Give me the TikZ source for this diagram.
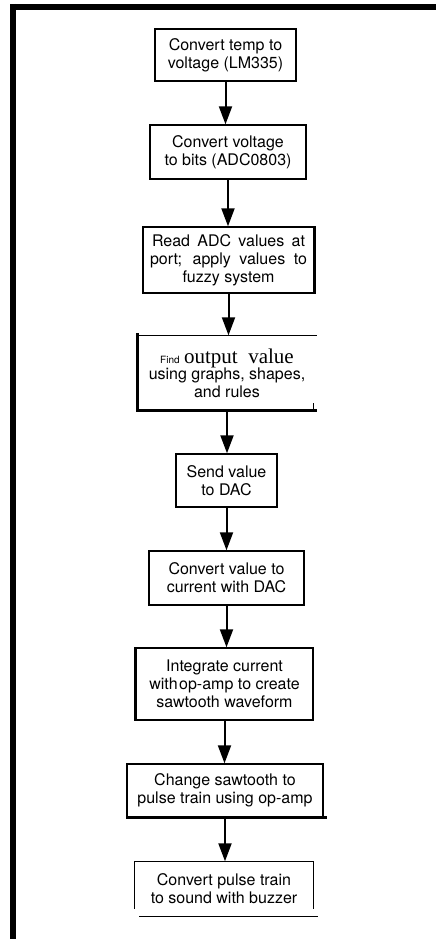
\documentclass[tikz,border=0pt]{standalone}
\usepackage{fontspec}
\setmainfont{TeX Gyre Heros}
\newfontfamily\outserif{Liberation Serif}
\usetikzlibrary{arrows.meta}

\tikzset{
  stage/.style={draw=black, line width=1.4pt, inner sep=0pt, align=center,
                font=\fontsize{16}{18}\selectfont},
  bare/.style={stage, draw=none},
  flow/.style={line width=2pt, -{Triangle[width=13pt,length=18pt,fill=black]}},
  edge/.style={line width=1.4pt},
  heavy/.style={line width=2.8pt},
  frame/.style={line width=6pt}
}

\begin{document}
\begin{tikzpicture}[x=1pt, y=-1pt]
  \useasboundingbox (0,0) rectangle (436,939);

  % outer frame: top and left bars
  \draw[frame] (10,7) -- (436,7);
  \draw[frame] (13,4) -- (13,939);

  % process stages
  \node[stage, minimum width=141pt, minimum height=52pt] (b1) at (225.5,55)
    {Convert temp to\\voltage (LM335)};
  \node[stage, minimum width=156pt, minimum height=54pt] (b2) at (228,152)
    {Convert voltage\\to bits (ADC0803)};
  \node[stage, minimum width=171pt, minimum height=66pt] (b3) at (228.5,260)
    {\makebox[153pt][s]{Read ADC values at}\\
     \makebox[157pt][s]{port; apply values to}\\fuzzy system};
  \node[bare, minimum width=178pt, minimum height=74pt] (b4) at (227,373)
    {{\fontsize{10}{18}\selectfont Find} {\outserif\fontsize{21}{18}\selectfont output\ \ value}\\[-2pt]
     using graphs, shapes,\\and rules};
  \node[stage, minimum width=101pt, minimum height=53pt] (b5) at (226.5,480.5)
    {Send value\\to DAC};
  \node[stage, minimum width=155pt, minimum height=54pt] (b6) at (226.5,578)
    {Convert value to\\current with DAC};
  \node[stage, minimum width=177pt, minimum height=72pt] (b7) at (224.5,684)
    {Integrate current\\with\hspace{1.5pt}op-amp to create\\sawtooth waveform};
  \node[stage, minimum width=196pt, minimum height=53pt] (b8) at (225,790.5)
    {Change sawtooth to\\pulse train using op-amp};
  \node[bare, minimum width=178pt, minimum height=54pt] (b9) at (224,889)
    {Convert pulse train\\to sound with buzzer};

  % heavier edges on some boxes
  \draw[heavy] (b3.north east) -- (b3.south east);
  \draw[edge] (b4.north west) -- (b4.north east);
  \draw[heavy] ([yshift=2pt]b4.north west) -- (b4.south west) -- (b4.south east);
  \draw[edge] ([xshift=-3pt]b4.south east) -- ++(0,-8);
  \draw[heavy] (b7.north west) -- (b7.south west);
  \draw[heavy] (b8.south west) -- ([xshift=3pt]b8.south east);

  % last box: open sides with a separate base line
  \draw[edge] ([yshift=8pt]b9.south west) -- (b9.north west)
              -- (b9.north east) -- ([yshift=8pt]b9.south east);
  \draw[edge] ([xshift=5pt]b9.south west) -- ([xshift=4pt]b9.south east);

  % flow arrows
  \draw[flow] (b1) -- (b1 |- b2.north);
  \draw[flow] (b2) -- (b2 |- b3.north);
  \draw[flow] (b3) -- (b3 |- b4.north);
  \draw[flow] (b4.south) -- (b4 |- b5.north);
  \draw[flow] (b5) -- (b5 |- b6.north);
  \draw[flow] (b6) -- (b6 |- b7.north);
  \draw[flow] (b7) -- (b7 |- b8.north);
  \draw[flow] (b8) -- (b8 |- b9.north);
\end{tikzpicture}
\end{document}
